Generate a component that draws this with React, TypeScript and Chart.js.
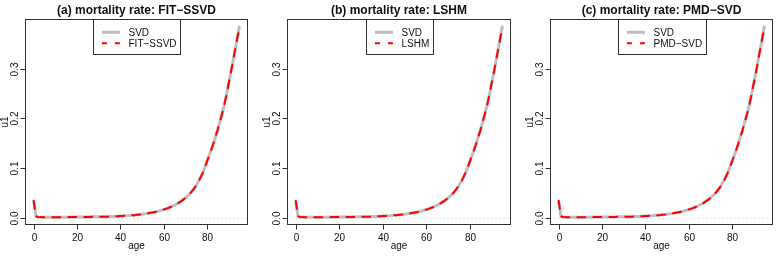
import React, { useEffect, useRef } from "react";
import { Chart, registerables } from "chart.js";

Chart.register(...registerables);

// age grid (years)
const ages = [
  0, 1, 2, 3, 4, 5, 6, 7, 8, 9, 10, 11, 12, 13, 14, 15, 16, 17, 18, 19,
  20, 21, 22, 23, 24, 25, 26, 27, 28, 29, 30, 31, 32, 33, 34, 35, 36, 37, 38, 39,
  40, 41, 42, 43, 44, 45, 46, 47, 48, 49, 50, 51, 52, 53, 54, 55, 56, 57, 58, 59,
  60, 61, 62, 63, 64, 65, 66, 67, 68, 69, 70, 71, 72, 73, 74, 75, 76, 77, 78, 79,
  80, 81, 82, 83, 84, 85, 86, 87, 88, 89, 90, 91, 92, 93, 94, 95,
];

// first left singular vector from the plain SVD
const svdU1 = [
  0.0335, 0.0025, 0.0012, 0.0008, 0.0006, 0.0005, 0.0004, 0.0004, 0.0003, 0.0003,
  0.0003, 0.0003, 0.0003, 0.0004, 0.0005, 0.0006, 0.0008, 0.0009, 0.001, 0.0011,
  0.0011, 0.0011, 0.0012, 0.0012, 0.0012, 0.0012, 0.0012, 0.0013, 0.0013, 0.0014,
  0.0014, 0.0015, 0.0016, 0.0017, 0.0018, 0.0019, 0.0021, 0.0022, 0.0024, 0.0026,
  0.0029, 0.0031, 0.0034, 0.0037, 0.004, 0.0044, 0.0048, 0.0052, 0.0057, 0.0062,
  0.0068, 0.0074, 0.008, 0.0087, 0.0095, 0.0103, 0.0112, 0.0122, 0.0133, 0.0146,
  0.016, 0.0175, 0.019, 0.0207, 0.0226, 0.0248, 0.0271, 0.0297, 0.0326, 0.0357,
  0.0392, 0.043, 0.0472, 0.0522, 0.0578, 0.064, 0.0715, 0.08, 0.089, 0.1,
  0.112, 0.124, 0.136, 0.149, 0.163, 0.177, 0.193, 0.209, 0.226, 0.246,
  0.268, 0.29, 0.313, 0.337, 0.36, 0.385,
];

// sparse estimates (they coincide with the SVD vector at this scale)
const fitSsvdU1 = [...svdU1];
const lshmU1 = [...svdU1];
const pmdSvdU1 = [...svdU1];

const panelTitles = [
  "(a) mortality rate: FIT\u2212SSVD",
  "(b) mortality rate: LSHM",
  "(c) mortality rate: PMD\u2212SVD",
];
const methodNames = ["FIT\u2212SSVD", "LSHM", "PMD\u2212SVD"];
const methodValues = [fitSsvdU1, lshmU1, pmdSvdU1];

const xTicks = [0, 20, 40, 60, 80];
const yTicks = [0, 0.1, 0.2, 0.3];
const yTickLabels = ["0.0", "0.1", "0.2", "0.3"];
const xRange = [-3.8, 98.8];
const yRange = [-0.0141, 0.3999];

const FONT = "'Liberation Sans', Arial, Helvetica, sans-serif";
const INK = "#111";
const FRAME = "#333";

// canvas placement and plot-region padding for the three panels
const panels = [
  { left: 0, width: 260, padLeft: 25.5, padRight: 12.5 },
  { left: 260, width: 260, padLeft: 27.5, padRight: 9.5 },
  { left: 520, width: 259, padLeft: 30.5, padRight: 6.5 },
];
const PAD_TOP = 19.5;
const PAD_BOTTOM = 35.5;
const HEIGHT = 260;

const basePlot = {
  id: "basePlot",
  beforeDatasetsDraw(chart: any) {
    const { ctx, chartArea } = chart;
    const y0 = chart.scales.y.getPixelForValue(0);
    ctx.save();
    ctx.strokeStyle = "#c8c8c8";
    ctx.lineWidth = 1;
    ctx.setLineDash([1, 3]);
    ctx.beginPath();
    ctx.moveTo(chartArea.left, Math.round(y0) + 0.5);
    ctx.lineTo(chartArea.right, Math.round(y0) + 0.5);
    ctx.stroke();
    ctx.restore();
  },
  afterDraw(chart: any, _args: any, opts: any) {
    const { ctx, chartArea } = chart;
    const { left, right, top, bottom } = chartArea;
    const xs = chart.scales.x;
    const ys = chart.scales.y;
    const cx = (left + right) / 2;
    ctx.save();

    // frame
    ctx.strokeStyle = FRAME;
    ctx.lineWidth = 1;
    ctx.setLineDash([]);
    ctx.strokeRect(left, top, right - left, bottom - top);

    // x ticks and labels
    ctx.fillStyle = INK;
    ctx.font = `10px ${FONT}`;
    ctx.textAlign = "center";
    ctx.textBaseline = "alphabetic";
    xTicks.forEach((t) => {
      const px = Math.round(xs.getPixelForValue(t)) + 0.5;
      ctx.beginPath();
      ctx.moveTo(px, bottom);
      ctx.lineTo(px, bottom + 5);
      ctx.stroke();
      ctx.fillText(String(t), px, 241);
    });
    ctx.fillText("age", cx, 248.5);

    // y ticks and rotated labels
    yTicks.forEach((t, i) => {
      const py = Math.round(ys.getPixelForValue(t)) + 0.5;
      ctx.beginPath();
      ctx.moveTo(left - 5, py);
      ctx.lineTo(left, py);
      ctx.stroke();
      ctx.save();
      ctx.translate(left - 8, py);
      ctx.rotate(-Math.PI / 2);
      ctx.fillText(yTickLabels[i], 0, 0);
      ctx.restore();
    });
    ctx.save();
    ctx.translate(left - 17.5, (top + bottom) / 2);
    ctx.rotate(-Math.PI / 2);
    ctx.fillText("u1", 0, 0);
    ctx.restore();

    // title
    ctx.font = `bold 12px ${FONT}`;
    ctx.fillText(opts.title, cx, 13.5);

    // legend
    ctx.font = `10px ${FONT}`;
    const tw = Math.max(ctx.measureText("SVD").width, ctx.measureText(opts.method).width);
    const bw = Math.round(35 + tw + 4);
    const bx = Math.round(cx - bw / 2) + 0.5;
    const by = top;
    const bh = 35;
    ctx.strokeStyle = FRAME;
    ctx.strokeRect(bx, by, bw, bh);
    const r1 = by + 12.8;
    const r2 = by + 23.8;
    const sx = bx + 8.4;
    ctx.lineCap = "butt";
    ctx.strokeStyle = "#bebebe";
    ctx.lineWidth = 3;
    ctx.beginPath();
    ctx.moveTo(sx, r1);
    ctx.lineTo(sx + 18, r1);
    ctx.stroke();
    ctx.strokeStyle = "#ff0000";
    ctx.lineWidth = 2;
    ctx.beginPath();
    ctx.moveTo(sx, r2);
    ctx.lineTo(sx + 5, r2);
    ctx.moveTo(sx + 13, r2);
    ctx.lineTo(sx + 18, r2);
    ctx.stroke();
    ctx.textAlign = "left";
    ctx.fillStyle = INK;
    ctx.fillText("SVD", bx + 35, r1 + 3.6);
    ctx.fillText(opts.method, bx + 35, r2 + 3.6);

    ctx.restore();
  },
};

function Panel({ index }: { index: number }) {
  const ref = useRef<HTMLCanvasElement | null>(null);
  const p = panels[index];
  useEffect(() => {
    if (!ref.current) return;
    const svdPts = ages.map((a, i) => ({ x: a, y: svdU1[i] }));
    const estPts = ages.map((a, i) => ({ x: a, y: methodValues[index][i] }));
    const chart = new Chart(ref.current, {
      type: "line",
      data: {
        datasets: [
          {
            label: methodNames[index],
            data: estPts,
            borderColor: "#ff0000",
            borderWidth: 2,
            borderDash: [8, 8],
            borderCapStyle: "round",
            pointRadius: 0,
            tension: 0,
            order: 1,
          },
          {
            label: "SVD",
            data: svdPts,
            borderColor: "#bebebe",
            borderWidth: 3,
            borderCapStyle: "round",
            borderJoinStyle: "round",
            pointRadius: 0,
            tension: 0,
            order: 2,
          },
        ],
      },
      options: {
        animation: false,
        responsive: false,
        devicePixelRatio: 1,
        layout: {
          padding: { left: p.padLeft, right: p.padRight, top: PAD_TOP, bottom: PAD_BOTTOM },
        },
        scales: {
          x: { type: "linear", min: xRange[0], max: xRange[1], display: false },
          y: { type: "linear", min: yRange[0], max: yRange[1], display: false },
        },
        plugins: {
          legend: { display: false },
          tooltip: { enabled: false },
          basePlot: { title: panelTitles[index], method: methodNames[index] },
        } as any,
      },
      plugins: [basePlot],
    });
    return () => chart.destroy();
  }, [index]);
  return (
    <canvas
      ref={ref}
      width={p.width}
      height={HEIGHT}
      style={{ position: "absolute", left: p.left, top: 0, width: p.width, height: HEIGHT, display: "block" }}
    />
  );
}

export default function App() {
  return (
    <div
      style={{
        position: "absolute",
        left: 0,
        top: 0,
        width: 779,
        height: HEIGHT,
        background: "#fff",
        overflow: "hidden",
      }}
    >
      {panels.map((_, i) => (
        <Panel key={i} index={i} />
      ))}
    </div>
  );
}
